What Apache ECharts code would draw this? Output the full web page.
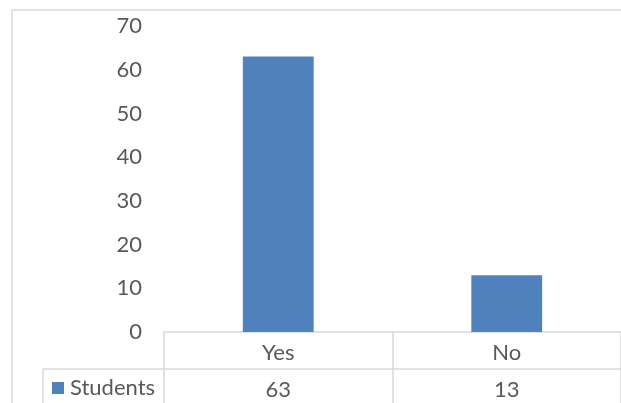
<!DOCTYPE html>
<html>
<head>
<meta charset="utf-8">
<script src="https://cdn.jsdelivr.net/npm/echarts@6/dist/echarts.min.js"></script>
<style>
  html, body { margin: 0; padding: 0; background: #fff; }
  #chart { width: 621px; height: 403px; }
</style>
</head>
<body>
<div id="chart"></div>
<script>
// Survey answers and student counts
const categories = ['Yes', 'No'];
const students = [63, 13];
const seriesName = 'Students';
const yTicks = { min: 0, max: 70, interval: 10 };

const FONT = 'Lato';
const FS = 22;
const TEXT = '#595959';
const LINE = '#d9d9d9';
const BLUE = '#4f81bd';

const chart = echarts.init(document.getElementById('chart'));

chart.setOption({
  animation: false,
  textStyle: { fontFamily: FONT, color: TEXT },
  grid: { left: 164, top: 26, width: 460, height: 306, containLabel: false },
  legend: {
    data: [seriesName],
    left: 52, top: 377, padding: 0,
    icon: 'rect', itemWidth: 12, itemHeight: 12, itemGap: 6,
    textStyle: { fontFamily: FONT, fontSize: FS, color: TEXT, padding: [0, 0, 0, 1] }
  },
  xAxis: [
    {
      type: 'category', data: categories, position: 'bottom',
      axisLine: { show: true, lineStyle: { color: LINE, width: 1.5 } },
      axisTick: { show: true, alignWithLabel: false, inside: false, length: 80, lineStyle: { color: LINE, width: 1.5 } },
      axisLabel: { fontFamily: FONT, fontSize: FS, color: TEXT, margin: 10 },
      splitLine: { show: false }
    },
    {
      // values row of the data table
      type: 'category', data: categories, position: 'bottom', offset: 37,
      axisLine: { show: false }, axisTick: { show: false },
      axisLabel: {
        fontFamily: FONT, fontSize: FS, color: TEXT, margin: 10,
        formatter: (v) => String(students[categories.indexOf(v)])
      },
      splitLine: { show: false }
    }
  ],
  yAxis: {
    type: 'value', min: yTicks.min, max: yTicks.max, interval: yTicks.interval,
    axisLine: { show: false }, axisTick: { show: false },
    splitLine: { show: false },
    axisLabel: { fontFamily: FONT, fontSize: FS, color: TEXT, margin: 22 }
  },
  series: [{
    name: seriesName, type: 'bar', data: students,
    barWidth: '31%',
    itemStyle: { color: BLUE }
  }],
  graphic: [
    // chart frame
    { type: 'rect', shape: { x: 12, y: 10, width: 700, height: 500 },
      style: { fill: 'none', stroke: LINE, lineWidth: 1.5 }, silent: true },
    // data table: row separator and legend cell border
    { type: 'line', shape: { x1: 43, y1: 369, x2: 700, y2: 369 },
      style: { stroke: LINE, lineWidth: 1.5 }, silent: true },
    { type: 'line', shape: { x1: 43, y1: 369, x2: 43, y2: 410 },
      style: { stroke: LINE, lineWidth: 1.5 }, silent: true }
  ]
});
</script>
</body>
</html>
